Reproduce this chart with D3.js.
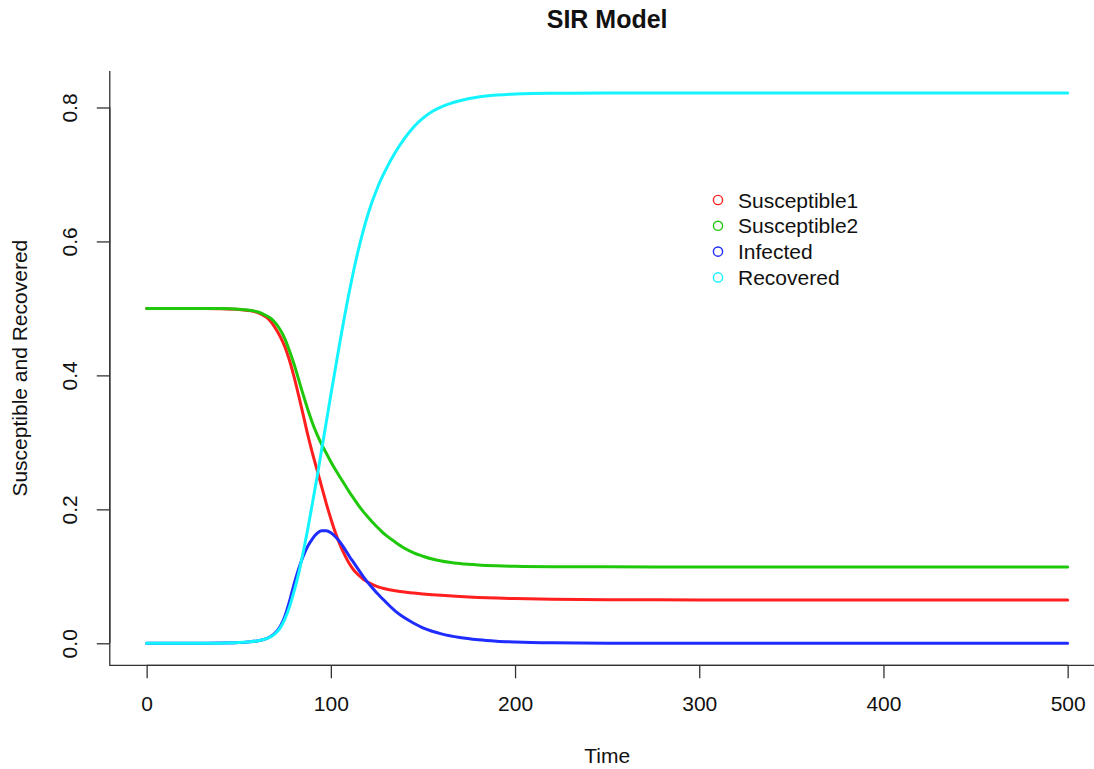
<!DOCTYPE html>
<html>
<head>
<meta charset="utf-8">
<script src="https://cdn.jsdelivr.net/npm/d3@7"></script>
<style>
  html, body { margin: 0; padding: 0; background: #fff; }
  svg { display: block; font-family: "Liberation Sans", Arial, Helvetica, sans-serif; }
</style>
</head>
<body>
<svg id="chart" width="1094" height="769"></svg>
<script>
// ---- data ----
const time = [0, 10, 20, 30, 40, 50, 55,
  60, 62.5, 65, 67.5, 70, 72.5, 75, 77.5, 80, 82.5, 85, 87.5, 90, 92.5, 95, 97.5, 100, 102.5, 105, 107.5, 110, 112.5, 115, 117.5, 120, 122.5, 125, 127.5, 130,
  135, 140, 145, 150, 155, 160, 170, 180, 190, 200, 220, 250, 300, 350, 400, 450, 500];
const susceptible1 = [0.5, 0.5, 0.5, 0.4999, 0.4996, 0.4985, 0.497,
  0.494, 0.491, 0.487, 0.480, 0.470, 0.458, 0.443, 0.423, 0.398, 0.370, 0.341, 0.311, 0.284, 0.259, 0.234, 0.209, 0.186, 0.165, 0.147, 0.132, 0.119, 0.109, 0.102, 0.096, 0.0915, 0.088, 0.085, 0.0828, 0.081,
  0.0785, 0.0765, 0.075, 0.0737, 0.0726, 0.0716, 0.0699, 0.0685, 0.0675, 0.0667, 0.0657, 0.0651, 0.0648, 0.0647, 0.0647, 0.0647, 0.0647];
const susceptible2 = [0.5, 0.5, 0.5, 0.4999, 0.4997, 0.4988, 0.4975,
  0.495, 0.4925, 0.489, 0.485, 0.478, 0.468, 0.455, 0.437, 0.417, 0.394, 0.371, 0.349, 0.329, 0.312, 0.297, 0.284, 0.271, 0.259, 0.248, 0.237, 0.226, 0.216, 0.206, 0.197, 0.189, 0.181, 0.174, 0.167, 0.161,
  0.151, 0.142, 0.135, 0.130, 0.1258, 0.1228, 0.1190, 0.1168, 0.1156, 0.1149, 0.1143, 0.1141, 0.114, 0.114, 0.114, 0.114, 0.114];
const infected = [0, 0, 0, 0.0001, 0.0003, 0.001, 0.002,
  0.0035, 0.005, 0.007, 0.0105, 0.016, 0.025, 0.040, 0.062, 0.088, 0.111, 0.130, 0.145, 0.156, 0.164, 0.168, 0.168, 0.165, 0.159, 0.151, 0.141, 0.130, 0.120, 0.110, 0.100, 0.091, 0.083, 0.075, 0.068, 0.061,
  0.048, 0.038, 0.030, 0.023, 0.018, 0.014, 0.0085, 0.0052, 0.0032, 0.002, 0.0007, 0.0001, 0, 0, 0, 0, 0];
const recovered = [0, 0, 0, 0, 0.0002, 0.001, 0.002,
  0.0035, 0.005, 0.007, 0.010, 0.015, 0.023, 0.036, 0.054, 0.077, 0.104, 0.136, 0.171, 0.209, 0.248, 0.289, 0.330, 0.371, 0.411, 0.451, 0.489, 0.525, 0.558, 0.588, 0.615, 0.639, 0.660, 0.678, 0.694, 0.708,
  0.733, 0.754, 0.771, 0.784, 0.794, 0.801, 0.810, 0.8155, 0.8185, 0.8202, 0.8212, 0.8215, 0.8216, 0.8216, 0.8216, 0.8216, 0.8216];
const seriesNames = ["Susceptible1", "Susceptible2", "Infected", "Recovered"];
const xTicks = [0, 100, 200, 300, 400, 500];
const yTicks = [0.0, 0.2, 0.4, 0.6, 0.8];
const titleText = "SIR Model";
const xLabel = "Time";
const yLabel = "Susceptible and Recovered";

// ---- styling ----
const colors = ["#ff1f1f", "#1fc80a", "#1f2cff", "#14f4ff"];
const seriesValues = [susceptible1, susceptible2, infected, recovered];

const svg = d3.select("#chart");
svg.append("rect").attr("width", 1094).attr("height", 769).attr("fill", "#fff");

// R-style 4% axis extension
const xMin = d3.min(time), xMax = d3.max(time);
const yMin = 0, yMax = d3.max(recovered);
const xPad = 0.04 * (xMax - xMin), yPad = 0.04 * (yMax - yMin);
const x = d3.scaleLinear().domain([xMin - xPad, xMax + xPad]).range([109.8, 1104.5]);
const y = d3.scaleLinear().domain([yMin - yPad, yMax + yPad]).range([665.3, 71.0]);

const axisColor = "#333";
const textColor = "#111";
const fs = 21;

// L-shaped box
svg.append("path")
  .attr("d", `M${x.range()[0]},${y.range()[1]} L${x.range()[0]},${y.range()[0]} L${x.range()[1]},${y.range()[0]}`)
  .attr("fill", "none").attr("stroke", axisColor).attr("stroke-width", 1.3);

// x axis
const xAxis = d3.axisBottom(x).tickValues(xTicks).tickSize(13).tickPadding(18).tickFormat(d3.format("d"));
const gx = svg.append("g").attr("transform", `translate(0,${y.range()[0]})`).call(xAxis);
gx.select(".domain").attr("stroke", axisColor).attr("stroke-width", 1.3)
  .attr("d", `M${x(xTicks[0])},0H${x(xTicks[xTicks.length - 1])}`);
gx.selectAll(".tick line").attr("stroke", axisColor).attr("stroke-width", 1.3);
gx.selectAll(".tick text").attr("fill", textColor).attr("font-size", fs)
  .attr("font-family", "Liberation Sans, Arial, sans-serif");

// y axis
const yAxis = d3.axisLeft(y).tickValues(yTicks).tickSize(13).tickFormat(d3.format(".1f"));
const gy = svg.append("g").attr("transform", `translate(${x.range()[0]},0)`).call(yAxis);
gy.select(".domain").attr("stroke", axisColor).attr("stroke-width", 1.3)
  .attr("d", `M0,${y(yTicks[0])}V${y(yTicks[yTicks.length - 1])}`);
gy.selectAll(".tick line").attr("stroke", axisColor).attr("stroke-width", 1.3);
gy.selectAll(".tick text")
  .attr("fill", textColor).attr("font-size", fs)
  .attr("font-family", "Liberation Sans, Arial, sans-serif")
  .attr("x", null).attr("dy", null)
  .attr("text-anchor", "middle")
  .attr("dominant-baseline", "central")
  .attr("transform", "translate(-40,0) rotate(-90)");

// lines
const line = d3.line().curve(d3.curveMonotoneX);
seriesValues.forEach((vals, i) => {
  const pts = time.map((t, j) => [x(t), y(vals[j])]);
  svg.append("path").attr("d", line(pts))
    .attr("fill", "none").attr("stroke", colors[i]).attr("stroke-width", 3)
    .attr("stroke-linejoin", "round").attr("stroke-linecap", "round");
});

// title and axis labels
const cx = (x.range()[0] + x.range()[1]) / 2;
svg.append("text").attr("x", cx).attr("y", 28).attr("text-anchor", "middle")
  .attr("font-size", 25).attr("font-weight", "bold").attr("fill", textColor).text(titleText);
svg.append("text").attr("x", cx).attr("y", 763).attr("text-anchor", "middle")
  .attr("font-size", fs).attr("fill", textColor).text(xLabel);
const cy = (y.range()[0] + y.range()[1]) / 2;
svg.append("text").attr("transform", `translate(27,${cy}) rotate(-90)`).attr("text-anchor", "middle")
  .attr("font-size", fs).attr("fill", textColor).text(yLabel);

// legend
const legend = svg.append("g");
seriesNames.forEach((name, i) => {
  const ly = 200 + i * 25.8;
  legend.append("circle").attr("cx", 718).attr("cy", ly).attr("r", 4.6)
    .attr("fill", "none").attr("stroke", colors[i]).attr("stroke-width", 1.4);
  legend.append("text").attr("x", 738).attr("y", ly).attr("dominant-baseline", "central")
    .attr("font-size", fs).attr("fill", textColor).text(name);
});
</script>
</body>
</html>
